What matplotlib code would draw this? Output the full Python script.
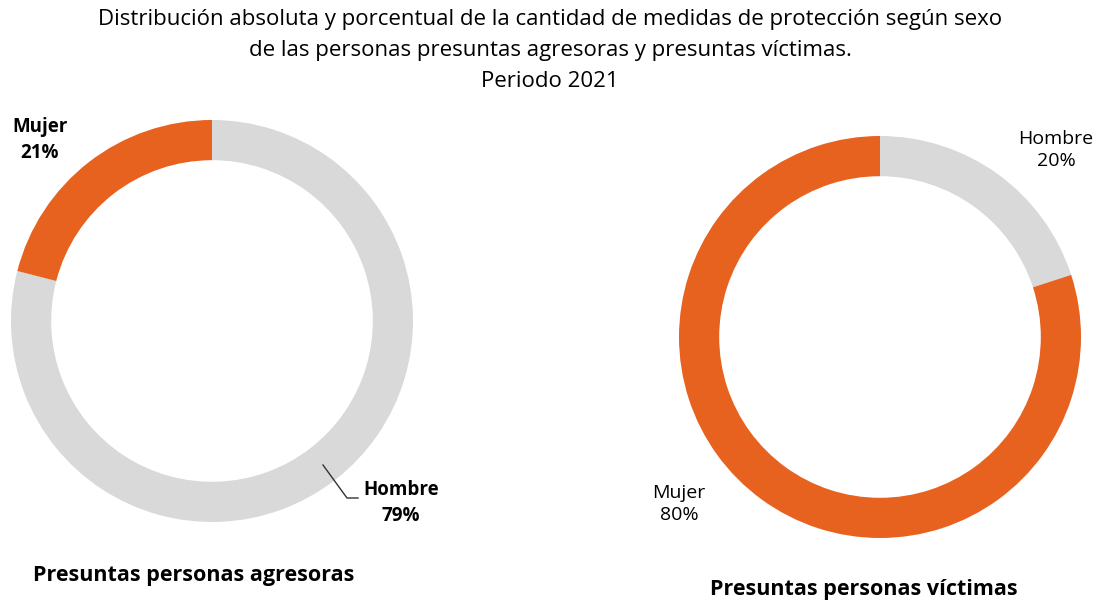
import matplotlib.pyplot as plt
from matplotlib.lines import Line2D

plt.rcParams['font.family'] = ['Open Sans', 'DejaVu Sans']

W, H = 1100, 601

sexos = ["Hombre", "Mujer"]
agresoras = [79, 21]
victimas = [20, 80]
colores = ["#D9D9D9", "#E8621F"]

titulo = ("Distribución absoluta y porcentual de la cantidad de medidas de protección según sexo\n"
          "de las personas presuntas agresoras y presuntas víctimas.\n"
          "Periodo 2021")


def fx(x):
    return x / W


def fy(y):
    return 1 - y / H


def donut(cx, cy, r, values):
    ax = fig.add_axes([fx(cx - r), fy(cy + r), 2 * r / W, 2 * r / H])
    ax.pie(values, colors=colores, startangle=90, counterclock=False, radius=1,
           wedgeprops=dict(width=0.2, linewidth=0))
    ax.set_xlim(-1, 1)
    ax.set_ylim(-1, 1)
    ax.axis("off")
    return ax


fig = plt.figure(figsize=(W / 100, H / 100), dpi=100)

fig.text(0.5, fy(9), titulo, ha="center", va="top", fontsize=16, linespacing=1.62)

donut(212, 321, 201, agresoras)
donut(880, 337, 201, victimas)

fig.text(fx(40), fy(140), f"Mujer\n{agresoras[1]}%", ha="center", va="center",
         fontsize=13.5, fontweight="bold", linespacing=1.35)
fig.text(fx(401), fy(503), f"Hombre\n{agresoras[0]}%", ha="center", va="center",
         fontsize=13.5, fontweight="bold", linespacing=1.35)
fig.add_artist(Line2D([fx(323), fx(347), fx(358)], [fy(465), fy(498), fy(498)],
                      color="#333333", linewidth=1))

fig.text(fx(1056), fy(150), f"Hombre\n{victimas[0]}%", ha="center", va="center",
         fontsize=14, linespacing=1.35)
fig.text(fx(679), fy(504), f"Mujer\n{victimas[1]}%", ha="center", va="center",
         fontsize=14, linespacing=1.35)

fig.text(fx(33), fy(575), "Presuntas personas agresoras", ha="left", va="center",
         fontsize=15.5, fontweight="bold")
fig.text(fx(864), fy(590), "Presuntas personas víctimas", ha="center", va="center",
         fontsize=15.5, fontweight="bold")

fig.savefig("out.png", dpi=100)
